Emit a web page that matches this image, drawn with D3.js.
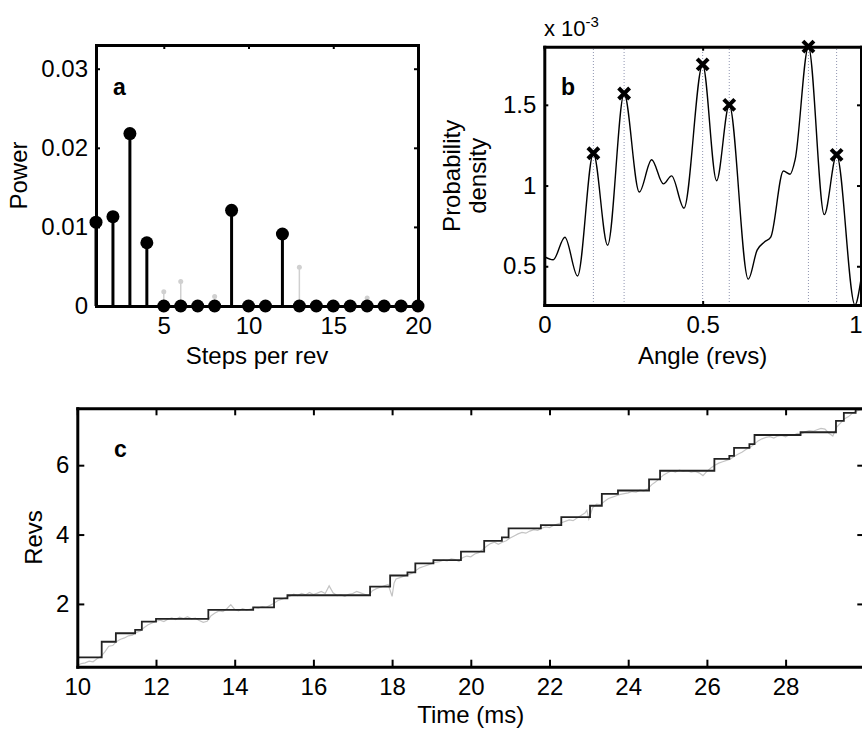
<!DOCTYPE html>
<html>
<head>
<meta charset="utf-8">
<script src="https://cdn.jsdelivr.net/npm/d3@7"></script>
<style>
  body { margin: 0; background: #fff; }
  svg { display: block; overflow: hidden; font-family: "Liberation Sans", Arial, sans-serif; }
</style>
</head>
<body>
<div id="fig"></div>
<script>
// Panel a: power spectrum (stem plot)
const stepsPerRev = d3.range(1, 21);
const powerMain = [0.0106, 0.0113, 0.0218, 0.0080, 0, 0, 0, 0, 0.0121, 0, 0, 0.0091, 0, 0, 0, 0, 0, 0, 0, 0];
const powerGreySteps = [5, 6, 8, 13, 17];
const powerGrey = [0.0018, 0.0031, 0.0012, 0.0049, 0.0010];

// Panel b: probability density (x 1e-3) vs angle
const angle = [0, 0.028, 0.065, 0.105, 0.155, 0.2, 0.252, 0.3, 0.339, 0.376, 0.402, 0.441, 0.5, 0.544, 0.584,
  0.644, 0.672, 0.695, 0.715, 0.755, 0.776, 0.792, 0.834, 0.884, 0.923, 0.981, 1.0];
const density = [0.56, 0.54, 0.68, 0.44, 1.20, 0.63, 1.57, 0.96, 1.16, 1.01, 1.06, 0.86, 1.75, 1.03, 1.50,
  0.42, 0.60, 0.65, 0.68, 1.09, 1.07, 1.16, 1.86, 0.82, 1.19, 0.26, 0.42];
const peakAngles = [0.155, 0.252, 0.5, 0.584, 0.834, 0.923];
const peakDensity = [1.20, 1.57, 1.75, 1.50, 1.86, 1.19];

// Panel c: step fit (black) and raw trace (grey)
const stepTime = [10.0, 10.62, 10.98, 11.47, 11.64, 12.0, 13.33, 14.47, 15.0, 15.34, 17.44, 17.95, 18.39, 18.59,
  19.05, 19.75, 20.34, 20.79, 20.96, 21.78, 22.30, 23.03, 23.33, 23.74, 24.53, 24.81, 26.19, 26.57, 26.69,
  27.08, 27.21, 28.38, 29.28, 29.48, 29.78, 30.3];
const stepRevs = [0.46, 0.91, 1.155, 1.25, 1.49, 1.57, 1.83, 1.90, 2.16, 2.25, 2.50, 2.82, 2.91, 3.17,
  3.26, 3.51, 3.82, 3.92, 4.18, 4.27, 4.50, 4.83, 5.17, 5.27, 5.59, 5.84, 6.18, 6.27, 6.50,
  6.61, 6.87, 6.95, 7.28, 7.51, 7.61, 7.61];
const traceTime = [10.0, 10.1, 10.2, 10.3, 10.4, 10.5, 10.6, 10.7, 10.8, 10.9, 11.0, 11.1, 11.2, 11.3, 11.4, 11.5,
  11.6, 11.7, 11.8, 11.9, 12.0, 12.1, 12.2, 12.3, 12.4, 12.5, 12.6, 12.7, 12.8, 12.9, 13.0, 13.1, 13.2, 13.3,
  13.4, 13.5, 13.6, 13.7, 13.8, 13.9, 14.0, 14.1, 14.2, 14.3, 14.4, 14.5, 14.6, 14.7, 14.8, 14.9, 15.0, 15.1,
  15.2, 15.3, 15.4, 15.5, 15.6, 15.7, 15.8, 15.9, 16.0, 16.1, 16.2, 16.3, 16.4, 16.5, 16.6, 16.7, 16.8, 16.9,
  17.0, 17.1, 17.2, 17.3, 17.4, 17.5, 17.6, 17.7, 17.8, 17.9, 18.0, 18.05, 18.1, 18.2, 18.3, 18.4, 18.5, 18.6,
  18.7, 18.8, 18.9, 19.0, 19.1, 19.2, 19.3, 19.4, 19.5, 19.6, 19.7, 19.8, 19.9, 20.0, 20.1, 20.2, 20.3, 20.4,
  20.5, 20.6, 20.7, 20.8, 20.9, 21.0, 21.1, 21.2, 21.3, 21.4, 21.5, 21.6, 21.7, 21.8, 21.9, 22.0, 22.1, 22.2,
  22.3, 22.4, 22.5, 22.6, 22.7, 22.8, 22.9, 22.95, 23.0, 23.1, 23.2, 23.3, 23.4, 23.5, 23.6, 23.7, 23.8, 23.9,
  24.0, 24.1, 24.2, 24.3, 24.4, 24.5, 24.6, 24.7, 24.8, 24.9, 25.0, 25.1, 25.2, 25.3, 25.4, 25.5, 25.6, 25.7,
  25.8, 25.9, 26.0, 26.1, 26.2, 26.3, 26.4, 26.5, 26.6, 26.7, 26.8, 26.9, 27.0, 27.1, 27.2, 27.3, 27.4, 27.5,
  27.6, 27.7, 27.8, 27.9, 28.0, 28.1, 28.2, 28.3, 28.4, 28.5, 28.6, 28.7, 28.8, 28.9, 29.0, 29.1, 29.2, 29.3,
  29.4, 29.5, 29.6, 29.7, 29.8, 29.9, 30.0];
const traceRevs = [0.22, 0.28, 0.30, 0.35, 0.33, 0.42, 0.48, 0.62, 0.78, 0.80, 0.92, 0.98, 1.02, 1.08, 1.10, 1.18,
  1.22, 1.32, 1.40, 1.45, 1.50, 1.53, 1.49, 1.56, 1.60, 1.55, 1.62, 1.58, 1.63, 1.57, 1.59, 1.52, 1.47, 1.50,
  1.66, 1.74, 1.80, 1.78, 1.86, 1.98, 1.84, 1.80, 1.86, 1.82, 1.85, 1.90, 1.88, 1.92, 1.90, 1.96, 2.02, 2.10,
  2.14, 2.18, 2.22, 2.28, 2.24, 2.30, 2.26, 2.33, 2.27, 2.31, 2.36, 2.30, 2.52, 2.32, 2.24, 2.26, 2.22, 2.28,
  2.30, 2.36, 2.32, 2.28, 2.24, 2.38, 2.44, 2.48, 2.52, 2.56, 2.22, 2.60, 2.72, 2.76, 2.80, 2.84, 2.88, 2.96,
  3.04, 3.08, 3.12, 3.16, 3.20, 3.22, 3.26, 3.24, 3.30, 3.28, 3.22, 3.34, 3.38, 3.36, 3.44, 3.48, 3.56, 3.66,
  3.74, 3.78, 3.72, 3.78, 3.82, 3.90, 3.96, 4.02, 4.06, 4.04, 4.10, 4.14, 4.12, 4.18, 4.22, 4.20, 4.26, 4.30,
  4.34, 4.38, 4.42, 4.40, 4.48, 4.55, 4.62, 4.70, 4.45, 4.78, 4.88, 4.86, 4.96, 5.04, 5.08, 5.12, 5.16, 5.18,
  5.20, 5.24, 5.22, 5.28, 5.26, 5.32, 5.44, 5.52, 5.62, 5.72, 5.78, 5.84, 5.80, 5.86, 5.82, 5.84, 5.80, 5.82,
  5.78, 5.70, 5.82, 5.92, 6.00, 6.06, 6.10, 6.14, 6.18, 6.26, 6.32, 6.38, 6.46, 6.52, 6.60, 6.70, 6.76, 6.80,
  6.82, 6.78, 6.84, 6.86, 6.82, 6.88, 6.86, 6.92, 6.90, 6.96, 7.00, 6.98, 7.02, 7.06, 7.04, 6.92, 6.84, 7.10,
  7.22, 7.34, 7.40, 7.50, 7.56, 7.60, 7.64];

const W = 862, H = 731;
const fontSize = 24;
const fontFamily = "Liberation Sans, Arial, sans-serif";

const svg = d3.select("#fig").append("svg")
  .attr("width", W)
  .attr("height", H);

svg.append("rect").attr("width", W).attr("height", H).attr("fill", "#fff");

// draw a MATLAB-like box with ticks inside
function box(x, y, xTicks, yTicks, tick, xFmt, yFmt, xLabelTicks) {
  const [x0, x1] = x.range();
  const [y0, y1] = y.range();
  const g = svg.append("g");

  const bottom = g.append("g").attr("transform", `translate(0,${y0})`)
    .call(d3.axisBottom(x).tickValues(xTicks)
      .tickFormat(d => (xLabelTicks || xTicks).includes(d) ? xFmt(d) : "")
      .tickSizeInner(-tick).tickSizeOuter(0).tickPadding(11));
  g.append("g").attr("transform", `translate(0,${y1})`)
    .call(d3.axisTop(x).tickValues(xTicks).tickFormat("").tickSizeInner(-tick).tickSizeOuter(0));
  g.append("g").attr("transform", `translate(${x0},0)`)
    .call(d3.axisLeft(y).tickValues(yTicks).tickFormat(yFmt).tickSizeInner(-tick).tickSizeOuter(0).tickPadding(8));
  g.append("g").attr("transform", `translate(${x1},0)`)
    .call(d3.axisRight(y).tickValues(yTicks).tickFormat("").tickSizeInner(-tick).tickSizeOuter(0));

  g.selectAll("g").attr("font-size", fontSize).attr("font-family", fontFamily);
  g.selectAll(".domain").attr("stroke-width", 3).attr("stroke-linecap", "square");
  g.selectAll(".tick line").attr("stroke-width", 2);
  g.selectAll("text").attr("fill", "#000");
  return bottom;
}

// ---------- Panel a ----------
const xa = d3.scaleLinear().domain([1, 20]).range([96, 418]);
const ya = d3.scaleLinear().domain([0, 0.033]).range([306, 45]);

const ga = svg.append("g");
ga.selectAll(".gstem").data(powerGrey).enter().append("line")
  .attr("x1", (d, i) => xa(powerGreySteps[i])).attr("x2", (d, i) => xa(powerGreySteps[i]))
  .attr("y1", ya(0)).attr("y2", d => ya(d))
  .attr("stroke", "#d0d0d0").attr("stroke-width", 1.5);
ga.selectAll(".gdot").data(powerGrey).enter().append("circle")
  .attr("cx", (d, i) => xa(powerGreySteps[i])).attr("cy", d => ya(d))
  .attr("r", 2.5).attr("fill", "#d0d0d0");

box(xa, ya, [5, 10, 15, 20], [0, 0.01, 0.02, 0.03], 4, d3.format("d"), d => d === 0 ? "0" : d3.format(".2f")(d));

const gaTop = svg.append("g");
gaTop.selectAll(".stem").data(powerMain).enter().append("line")
  .attr("x1", (d, i) => xa(stepsPerRev[i])).attr("x2", (d, i) => xa(stepsPerRev[i]))
  .attr("y1", ya(0)).attr("y2", d => ya(d))
  .attr("stroke", "#000").attr("stroke-width", 3);
gaTop.selectAll(".dot").data(powerMain).enter().append("circle")
  .attr("cx", (d, i) => xa(stepsPerRev[i])).attr("cy", d => ya(d))
  .attr("r", 6.5).attr("fill", "#000");

svg.append("text").attr("x", 113).attr("y", 95).attr("font-size", 23).attr("font-weight", "bold").text("a");
svg.append("text").attr("transform", `translate(27,${(45 + 306) / 2}) rotate(-90)`)
  .attr("text-anchor", "middle").attr("font-size", fontSize).text("Power");
svg.append("text").attr("x", (96 + 418) / 2).attr("y", 364).attr("text-anchor", "middle")
  .attr("font-size", fontSize).text("Steps per rev");

// ---------- Panel b ----------
const xb = d3.scaleLinear().domain([0, 1]).range([544.3, 861]);
const yb = d3.scaleLinear().domain([0.26, 1.86]).range([305, 46.7]);

const gb = svg.append("g");
gb.selectAll(".vline").data(peakAngles).enter().append("line")
  .attr("x1", d => xb(d)).attr("x2", d => xb(d))
  .attr("y1", yb.range()[0]).attr("y2", yb.range()[1])
  .attr("stroke", "#8f94b0").attr("stroke-width", 1).attr("stroke-dasharray", "1,2");

const bottomB = box(xb, yb, [0, 0.5, 1], [0.5, 1, 1.5], 4, d => d3.format("")(d), d => d3.format("")(d));
// the last label sits on the image edge: keep it inside
bottomB.selectAll("text").filter(d => d === 1).attr("text-anchor", "end").attr("x", 1);

const gbTop = svg.append("g");
gbTop.append("path")
  .datum(angle.map((a, i) => [a, density[i]]))
  .attr("fill", "none").attr("stroke", "#000").attr("stroke-width", 1.4)
  .attr("d", d3.line().x(d => xb(d[0])).y(d => yb(d[1])).curve(d3.curveMonotoneX));

gbTop.selectAll(".cross").data(peakAngles).enter().append("path")
  .attr("transform", (d, i) => `translate(${xb(d)},${yb(peakDensity[i])})`)
  .attr("d", "M-5.5,-5.5L5.5,5.5M-5.5,5.5L5.5,-5.5")
  .attr("stroke", "#000").attr("stroke-width", 4);

svg.append("text").attr("x", 561).attr("y", 95).attr("font-size", 23).attr("font-weight", "bold").text("b");
const yl = svg.append("text").attr("transform", `translate(0,${(46.7 + 305) / 2}) rotate(-90)`)
  .attr("text-anchor", "middle").attr("font-size", fontSize);
yl.append("tspan").attr("x", 0).attr("y", 460).text("Probability");
yl.append("tspan").attr("x", 0).attr("y", 486).text("density");
const sci = svg.append("text").attr("x", 544).attr("y", 36).attr("font-size", 22);
sci.append("tspan").text("x 10");
sci.append("tspan").attr("dy", -9).attr("font-size", 15).text("-3");
svg.append("text").attr("x", (544.3 + 861) / 2).attr("y", 364).attr("text-anchor", "middle")
  .attr("font-size", fontSize).text("Angle (revs)");

// ---------- Panel c ----------
const xc = d3.scaleLinear().domain([10, 30]).range([77.3, 864.3]);
const yc = d3.scaleLinear().domain([0.19, 7.64]).range([666.7, 408.3]);

const gc = svg.append("g");
gc.append("path")
  .datum(traceTime.map((t, i) => [t, traceRevs[i]]))
  .attr("fill", "none").attr("stroke", "#c4c4c4").attr("stroke-width", 1.2)
  .attr("d", d3.line().x(d => xc(d[0])).y(d => yc(d[1])));
gc.append("path")
  .datum(stepTime.map((t, i) => [t, stepRevs[i]]))
  .attr("fill", "none").attr("stroke", "#222").attr("stroke-width", 1.8)
  .attr("d", d3.line().x(d => xc(d[0])).y(d => yc(d[1])).curve(d3.curveStepAfter));

box(xc, yc, d3.range(10, 31, 2), [2, 4, 6], 7, d3.format("d"), d3.format("d"), d3.range(10, 29, 2));

svg.append("text").attr("x", 114).attr("y", 457).attr("font-size", 23).attr("font-weight", "bold").text("c");
svg.append("text").attr("transform", `translate(42,${(408.3 + 666.7) / 2}) rotate(-90)`)
  .attr("text-anchor", "middle").attr("font-size", fontSize).text("Revs");
svg.append("text").attr("x", (77.3 + 864.3) / 2).attr("y", 723).attr("text-anchor", "middle")
  .attr("font-size", fontSize).text("Time (ms)");
</script>
</body>
</html>
